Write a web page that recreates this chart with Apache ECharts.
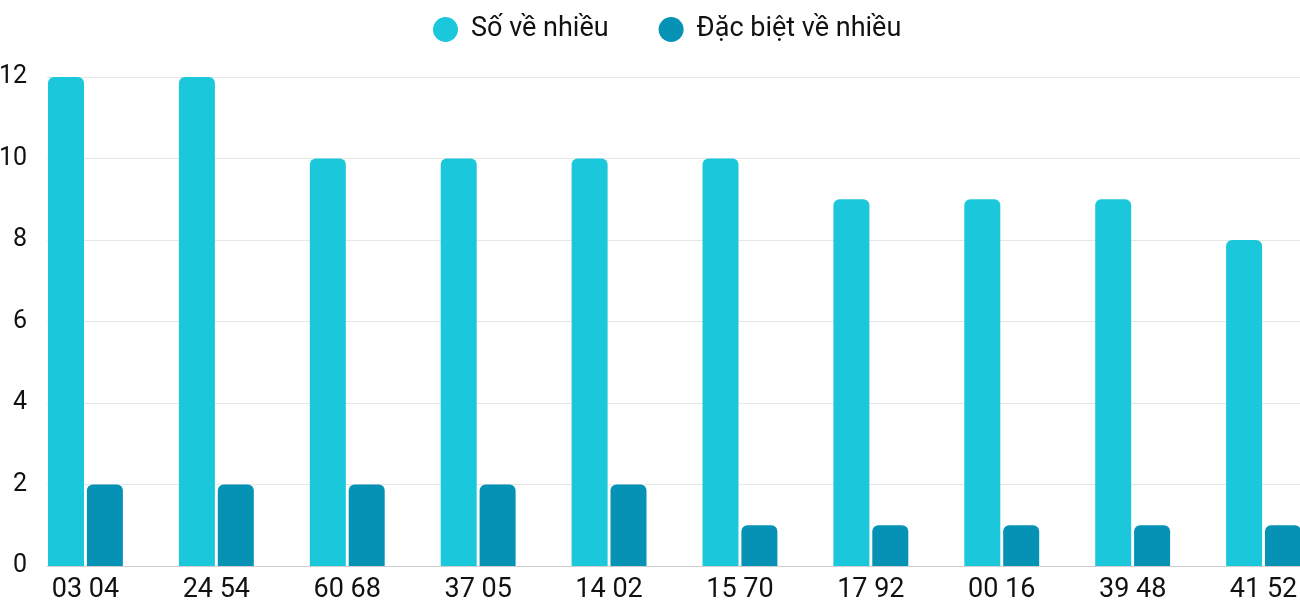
<!DOCTYPE html>
<html>
<head>
<meta charset="utf-8">
<script src="https://cdn.jsdelivr.net/npm/echarts@6/dist/echarts.min.js"></script>
<style>
html,body{margin:0;padding:0;background:#fff;}
#c{width:1300px;height:600px;}
</style>
</head>
<body>
<div id="c"></div>
<script>
const categories = ["03 04", "24 54", "60 68", "37 05", "14 02", "15 70", "17 92", "00 16", "39 48", "41 52"];
const seriesNames = ["Số về nhiều", "Đặc biệt về nhiều"];
const soVeNhieu = [12, 12, 10, 10, 10, 10, 9, 9, 9, 8];
const dacBietVeNhieu = [2, 2, 2, 2, 2, 1, 1, 1, 1, 1];
const colors = ["#1BC8DB", "#0592B5"];

const chart = echarts.init(document.getElementById('c'), null, {renderer: 'canvas'});
const font = 'Roboto';
chart.setOption({
  animation: false,
  textStyle: {fontFamily: font},
  legend: {
    top: 11,
    left: 428,
    itemWidth: 25,
    itemHeight: 25,
    itemGap: 50,
    icon: 'circle',
    textStyle: {fontSize: 27, color: '#111', fontFamily: font, padding: [0, 0, 0, 8]},
    data: seriesNames
  },
  grid: [
    {left: 47, right: 0, top: 77, bottom: 34, outerBoundsMode: 'none'},
    {left: 20, right: -29, top: 77, bottom: 34, outerBoundsMode: 'none'}
  ],
  xAxis: [
    {gridIndex: 0, type: 'category', data: categories,
     axisLine: {show: true, lineStyle: {color: '#cfcfcf', width: 1}},
     axisTick: {show: false}, axisLabel: {show: false}},
    {gridIndex: 1, type: 'category', data: categories,
     axisLine: {show: false}, axisTick: {show: false},
     axisLabel: {show: true, fontSize: 27, color: '#111', fontFamily: font, margin: 11}}
  ],
  yAxis: [
    {gridIndex: 0, type: 'value', min: 0, max: 12, interval: 2,
     axisLine: {show: false}, axisTick: {show: false},
     axisLabel: {fontSize: 25, color: '#111', fontFamily: font, margin: 20},
     splitLine: {lineStyle: {color: '#e6e6e6', width: 1}}},
    {gridIndex: 1, type: 'value', min: 0, max: 12, interval: 2, show: false,
     splitLine: {show: false}}
  ],
  series: [
    {name: seriesNames[0], type: 'bar', xAxisIndex: 1, yAxisIndex: 1, data: soVeNhieu,
     barWidth: 36, barGap: '8%',
     itemStyle: {color: colors[0], borderRadius: [6, 6, 0, 0]}},
    {name: seriesNames[1], type: 'bar', xAxisIndex: 1, yAxisIndex: 1, data: dacBietVeNhieu,
     barWidth: 36, barGap: '8%',
     itemStyle: {color: colors[1], borderRadius: [6, 6, 0, 0]}}
  ]
});
</script>
</body>
</html>
